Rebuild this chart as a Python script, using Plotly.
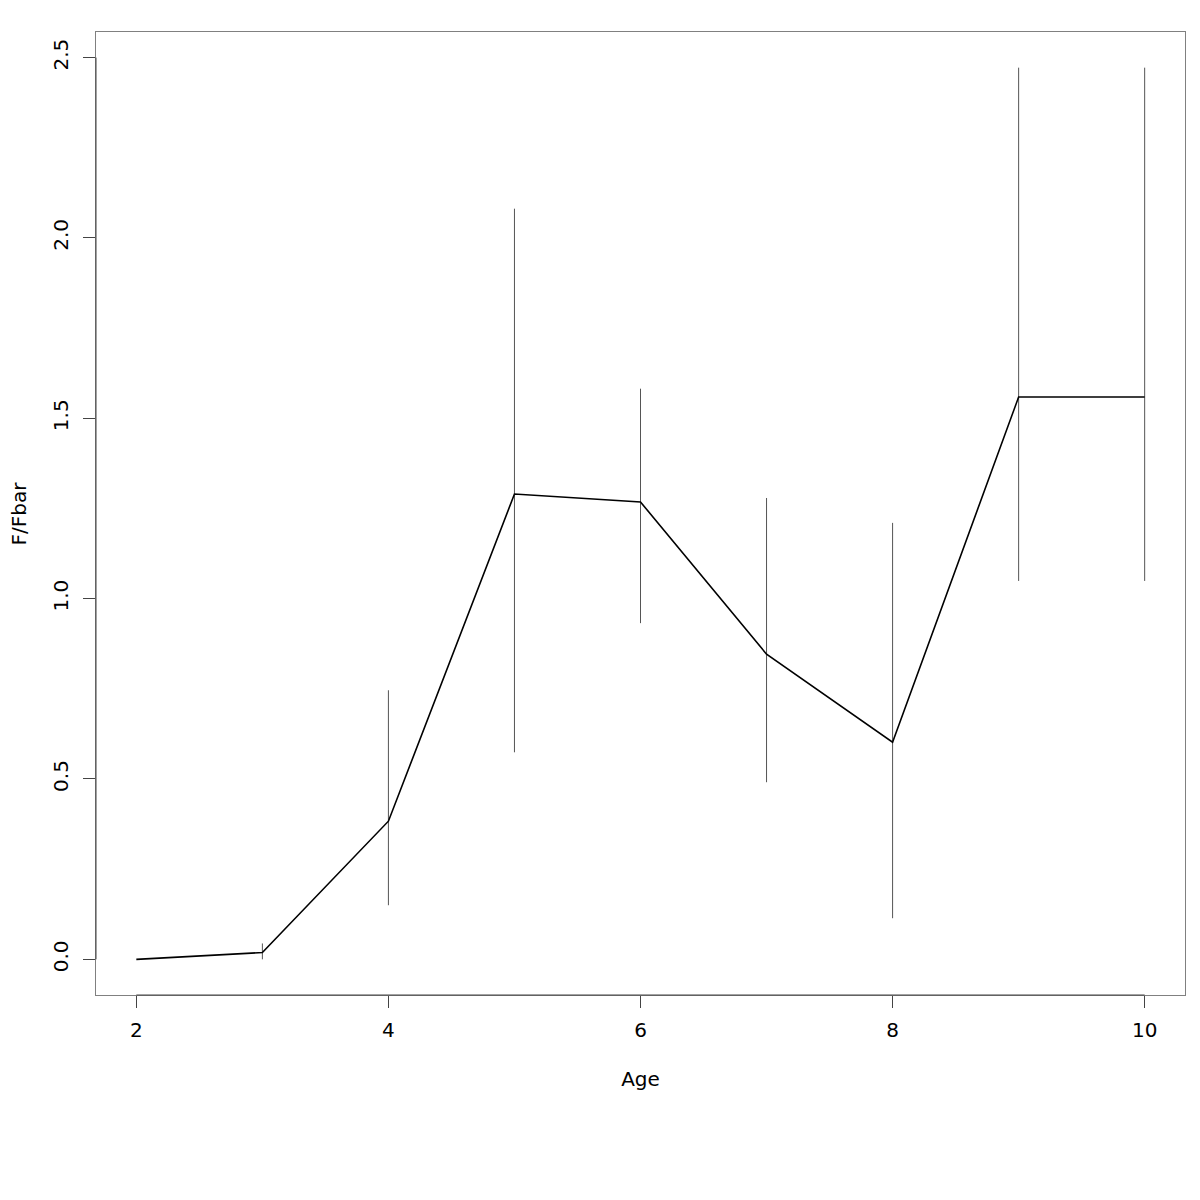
import plotly.graph_objects as go

ages = [2, 3, 4, 5, 6, 7, 8, 9, 10]
ratio = [0.0, 0.019, 0.383, 1.290, 1.268, 0.846, 0.602, 1.559, 1.559]
upper = [0.0, 0.044, 0.746, 2.081, 1.582, 1.279, 1.210, 2.472, 2.472]
lower = [0.0, 0.0, 0.150, 0.574, 0.932, 0.491, 0.114, 1.049, 1.049]
x_ticks = [2, 4, 6, 8, 10]
y_ticks = [0.0, 0.5, 1.0, 1.5, 2.0, 2.5]
y_tick_labels = ["0.0", "0.5", "1.0", "1.5", "2.0", "2.5"]

err_plus = [u - r for u, r in zip(upper, ratio)]
err_minus = [r - l for r, l in zip(ratio, lower)]

font = "DejaVu Sans, Liberation Sans, sans-serif"

fig = go.Figure()
fig.add_trace(go.Scatter(
    x=ages, y=ratio, mode="lines",
    line=dict(color="black", width=1.6),
    error_y=dict(type="data", array=err_plus, arrayminus=err_minus,
                 symmetric=False, width=0, thickness=1, color="#555555"),
    showlegend=False,
))

xr = [2 - 0.32, 10 + 0.32]
ymax = 2.472
yr = [0 - 0.04 * ymax, ymax + 0.04 * ymax]

fig.update_layout(
    width=1200, height=1200,
    paper_bgcolor="white", plot_bgcolor="white",
    margin=dict(l=88, r=23, t=24, b=213, autoexpand=False),
    font=dict(family=font, size=20, color="black"),
    xaxis=dict(range=xr, tickvals=x_ticks, ticks="outside", ticklen=12,
               tickcolor="#444444", tickwidth=1, showgrid=False, zeroline=False,
               showline=True, mirror=True, linecolor="#808080", linewidth=1,
               ticklabelstandoff=5, automargin=False,
               title=dict(text="Age", standoff=30, font=dict(size=20)),
               tickfont=dict(size=20)),
    yaxis=dict(range=yr, tickvals=y_ticks, ticktext=y_tick_labels,
               ticks="outside", ticklen=12, tickcolor="#444444", tickwidth=1,
               showgrid=False, zeroline=False, tickangle=-90,
               showline=True, mirror=True, linecolor="#808080", linewidth=1,
               ticklabelstandoff=7, automargin=False,
               tickfont=dict(size=20)),
)

fig.add_annotation(text="F/Fbar", xref="paper", yref="paper", x=0, y=0.5,
                   xanchor="center", yanchor="middle", xshift=-78,
                   textangle=-90, showarrow=False, font=dict(size=20))

# darker axis segments spanning the tick range (R style)
fig.add_shape(type="line", xref="x", yref="paper", x0=2, x1=10, y0=0, y1=0,
              line=dict(color="#444444", width=1))
fig.add_shape(type="line", xref="paper", yref="y", x0=0, x1=0, y0=0, y1=2.5,
              line=dict(color="#444444", width=1))

fig.write_html("out.html")
